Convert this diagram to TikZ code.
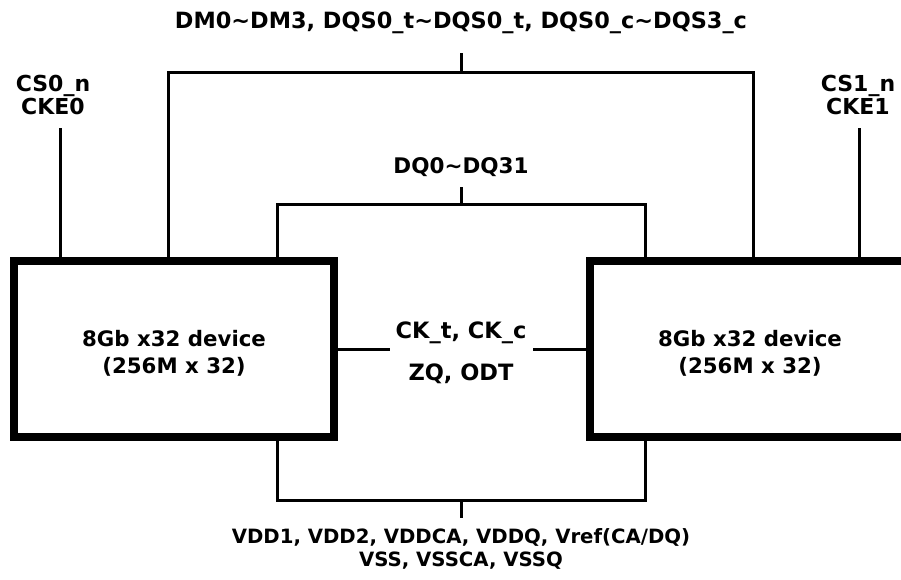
\documentclass[tikz,border=0pt]{standalone}
\usepackage{fontspec}
\setmainfont{DejaVu Sans}
\newcommand{\fs}[1]{\bfseries\fontsize{#1}{#1}\selectfont}
\begin{document}
\begin{tikzpicture}[x=1pt,y=-1pt,
  dev/.style={draw,line width=8pt,minimum width=320pt,minimum height=176pt,inner sep=0pt},
  lbl/.style={inner sep=0pt,anchor=base},
  wire/.style={line width=3pt}]
\useasboundingbox (0,0) rectangle (901,579);
\clip (0,0) rectangle (901,579);
\node[dev] (L) at (174,349) {};
\node[dev] (R) at (750,349) {};
\node[lbl,font=\fs{21.3}] (l1) at (174,346) {8Gb x32 device};
\node[lbl,font=\fs{21.3}] (l2) at (174,373) {(256M x 32)};
\node[lbl,font=\fs{21.3}] (r1) at (750,346) {8Gb x32 device};
\node[lbl,font=\fs{21.3}] (r2) at (750,373) {(256M x 32)};
\node[lbl,font=\fs{22.4}] (top) at (461,28) {DM0\textasciitilde DM3, DQS0\_t\textasciitilde DQS0\_t, DQS0\_c\textasciitilde DQS3\_c};
\node[lbl,font=\fs{21.5}] (dq) at (461,173) {DQ0\textasciitilde DQ31};
\node[lbl,font=\fs{22}] (csl1) at (53,91) {CS0\_n};
\node[lbl,font=\fs{22}] (csl2) at (53,114) {CKE0};
\node[lbl,font=\fs{22}] (csr1) at (858,91) {CS1\_n};
\node[lbl,font=\fs{22}] (csr2) at (858,114) {CKE1};
\node[lbl,font=\fs{22.5}] (ck1) at (461,338) {CK\_t, CK\_c};
\node[lbl,font=\fs{22.5}] (ck2) at (461,380) {ZQ, ODT};
\node[lbl,font=\fs{19.7}] (p1) at (461,543) {VDD1, VDD2, VDDCA, VDDQ, Vref(CA/DQ)};
\node[lbl,font=\fs{19.7}] (p2) at (461,566) {VSS, VSSCA, VSSQ};
\coordinate (cslt) at (60,128);
\coordinate (csrt) at (859,128);
\coordinate (tstem) at (461,53);
\coordinate (ttop) at (461,72);
\coordinate (dstem) at (461,187);
\coordinate (dtop) at (461,204);
\coordinate (bbot) at (461,500);
\coordinate (bstem) at (461,518);
\coordinate (ckl) at (390,349);
\coordinate (ckr) at (533,349);
% CS lines
\draw[wire] (cslt) -- (cslt |- L.north);
\draw[wire] (csrt) -- (csrt |- R.north);
% top bracket
\draw[wire] (tstem) -- (ttop);
\draw[wire] (168,0 |- L.north) -- (168,0 |- ttop) -- (753,0 |- ttop) -- (753,0 |- R.north);
% DQ bracket
\draw[wire] (dstem) -- (dtop);
\draw[wire] (277,0 |- L.north) -- (277,0 |- dtop) -- (645,0 |- dtop) -- (645,0 |- R.north);
% bottom bracket
\draw[wire] (277,0 |- L.south) -- (277,0 |- bbot) -- (645,0 |- bbot) -- (645,0 |- R.south);
\draw[wire] (bbot) -- (bstem);
% middle
\draw[wire] (L.east) -- (ckl);
\draw[wire] (R.west) -- (ckr);
\end{tikzpicture}
\end{document}
